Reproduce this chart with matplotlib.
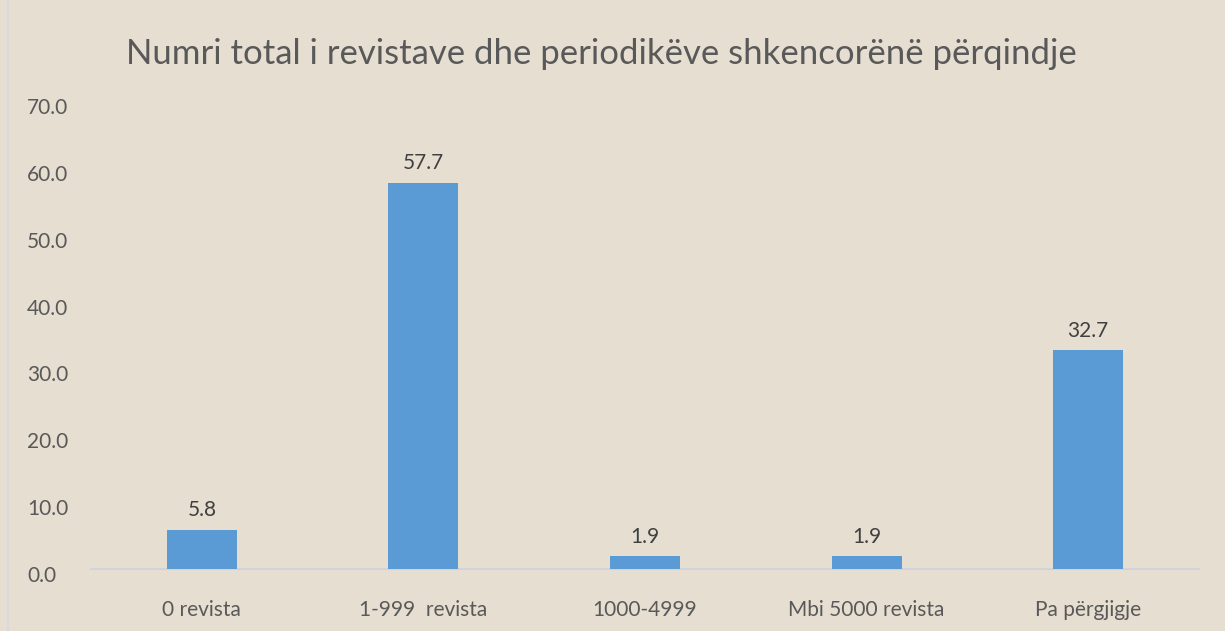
import matplotlib.pyplot as plt
import matplotlib.transforms as mtransforms

categories = ['0 revista', '1-999  revista', '1000-4999', 'Mbi 5000 revista', 'Pa përgjigje']
values = [5.8, 57.7, 1.9, 1.9, 32.7]
yticks = [0, 10, 20, 30, 40, 50, 60, 70]

plt.rcParams['font.family'] = ['Lato', 'DejaVu Sans']

bg = '#E6DED1'
fig = plt.figure(figsize=(12.25, 6.31), dpi=100, facecolor=bg)
ax = fig.add_axes([0.0743, 0.0983, 0.9045, 0.7417], facecolor=bg)

x = range(len(categories))
bars = ax.bar(x, values, width=0.316, color='#5B9BD5', zorder=3)

ax.set_xlim(-0.5, len(categories) - 0.5)
ax.set_ylim(0, 70)
ax.set_yticks(yticks)
ax.set_yticklabels([f'{v:.1f}' for v in yticks])
ax.set_xticks(list(x))
ax.set_xticklabels(categories)

for s in ['top', 'right', 'left']:
    ax.spines[s].set_visible(False)
ax.spines['bottom'].set_color('#D0D3D8')
ax.spines['bottom'].set_linewidth(1.5)
ax.tick_params(axis='both', length=0, labelsize=15, colors='#595959')
ax.tick_params(axis='x', pad=22)

# value labels sit a few pixels below their nominal positions, left aligned
shift = mtransforms.ScaledTranslation(-64 / 100, -5 / 100, fig.dpi_scale_trans)
for lbl in ax.get_yticklabels():
    lbl.set_horizontalalignment('left')
    lbl.set_transform(ax.get_yaxis_transform() + shift)

for b, v in zip(bars, values):
    ax.annotate(f'{v:.1f}', (b.get_x() + b.get_width() / 2, v),
                xytext=(0, 7), textcoords='offset points',
                ha='center', va='bottom', fontsize=15, color='#404040')

fig.text(0.4906, 0.915, 'Numri total i revistave dhe periodikëve shkencorënë përqindje',
         ha='center', va='center', fontsize=25, color='#595959')

fig.add_artist(plt.Line2D([8 / 1225, 8 / 1225], [0, 1], color='#D6D9DE', lw=1.5,
                          transform=fig.transFigure))

fig.savefig('out.png', dpi=100, facecolor=bg)
